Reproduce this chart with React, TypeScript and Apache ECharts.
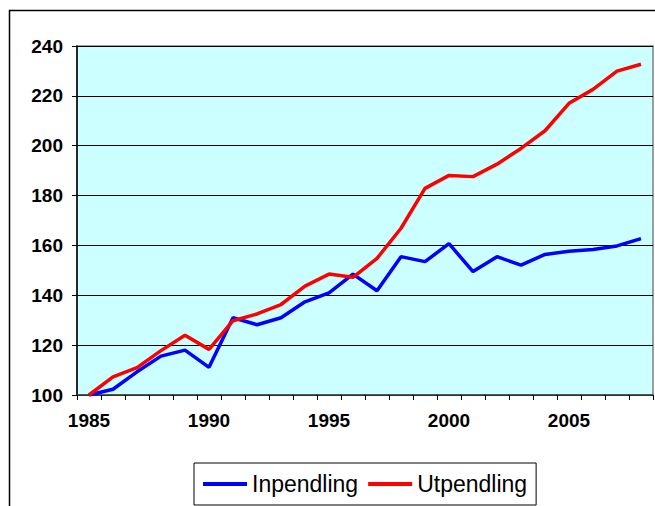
import React, { useEffect, useRef } from "react";
import * as echarts from "echarts";

const years = [
  "1985", "1986", "1987", "1988", "1989", "1990", "1991", "1992", "1993", "1994", "1995", "1996",
  "1997", "1998", "1999", "2000", "2001", "2002", "2003", "2004", "2005", "2006", "2007", "2008",
];
const inpendling = [
  100, 102.3, 109.3, 115.6, 118, 111.1, 131, 128.2, 131, 137.4, 141, 148.5,
  141.8, 155.5, 153.5, 160.7, 149.5, 155.5, 152.1, 156.4, 157.7, 158.4, 159.8, 162.7,
];
const utpendling = [
  100, 107.3, 111, 117.8, 124, 118.3, 129.8, 132.5, 136.3, 143.7, 148.5, 147.2,
  154.8, 166.9, 182.9, 188.1, 187.6, 192.6, 198.9, 206, 217, 222.6, 229.9, 232.7,
];
const seriesNames = ["Inpendling", "Utpendling"];
const yMin = 100;
const yMax = 240;
const yStep = 20;

const FONT = "'Liberation Sans', Arial, Helvetica, sans-serif";

export default function App() {
  const ref = useRef<HTMLDivElement>(null);
  useEffect(() => {
    if (!ref.current) return;
    const chart = echarts.init(ref.current, undefined, { renderer: "svg" });
    chart.setOption({
      animation: false,
      backgroundColor: "#fff",
      textStyle: { fontFamily: FONT },
      graphic: [
        {
          type: "rect",
          shape: { x: 9.5, y: 10.5, width: 700, height: 600 },
          style: { fill: "none", stroke: "#000", lineWidth: 1.5 },
          z: 100,
        },
      ],
      grid: {
        left: 77,
        top: 46,
        right: 2,
        bottom: 111,
        show: true,
        backgroundColor: "#CCFFFF",
        borderColor: "#808080",
        borderWidth: 1.5,
      },
      legend: {
        left: 194,
        top: 463,
        data: seriesNames,
        orient: "horizontal",
        icon: "rect",
        borderColor: "#000",
        borderWidth: 1,
        borderRadius: 0,
        padding: [9, 9, 9, 9],
        itemGap: 10,
        itemWidth: 44,
        itemHeight: 4,
        textStyle: { fontFamily: FONT, fontSize: 23, color: "#000", lineHeight: 24 },
      },
      xAxis: {
        type: "category",
        data: years,
        boundaryGap: true,
        axisLine: { lineStyle: { color: "#404040", width: 1.5 } },
        axisTick: { show: true, interval: 0, length: 5, lineStyle: { color: "#000" } },
        axisLabel: {
          interval: 4,
          margin: 16,
          fontFamily: FONT,
          fontSize: 19,
          fontWeight: "bold",
          color: "#000",
        },
        splitLine: { show: false },
      },
      yAxis: {
        type: "value",
        min: yMin,
        max: yMax,
        interval: yStep,
        axisLine: { show: true, lineStyle: { color: "#000", width: 1.5 } },
        axisTick: { show: true, length: 5, lineStyle: { color: "#000" } },
        axisLabel: {
          margin: 14,
          fontFamily: FONT,
          fontSize: 19,
          fontWeight: "bold",
          color: "#000",
        },
        splitLine: { show: true, lineStyle: { color: "#000", width: 1 } },
      },
      series: [
        {
          name: seriesNames[0],
          type: "line",
          data: inpendling,
          symbol: "none",
          showSymbol: false,
          lineStyle: { color: "#0000FF", width: 3.5 },
          itemStyle: { color: "#0000FF" },
        },
        {
          name: seriesNames[1],
          type: "line",
          data: utpendling,
          symbol: "none",
          showSymbol: false,
          lineStyle: { color: "#FF0000", width: 3.5 },
          itemStyle: { color: "#FF0000" },
        },
      ],
    });
    return () => chart.dispose();
  }, []);
  return (
    <div
      ref={ref}
      style={{ position: "fixed", left: 0, top: 0, width: 655, height: 506 }}
    />
  );
}
